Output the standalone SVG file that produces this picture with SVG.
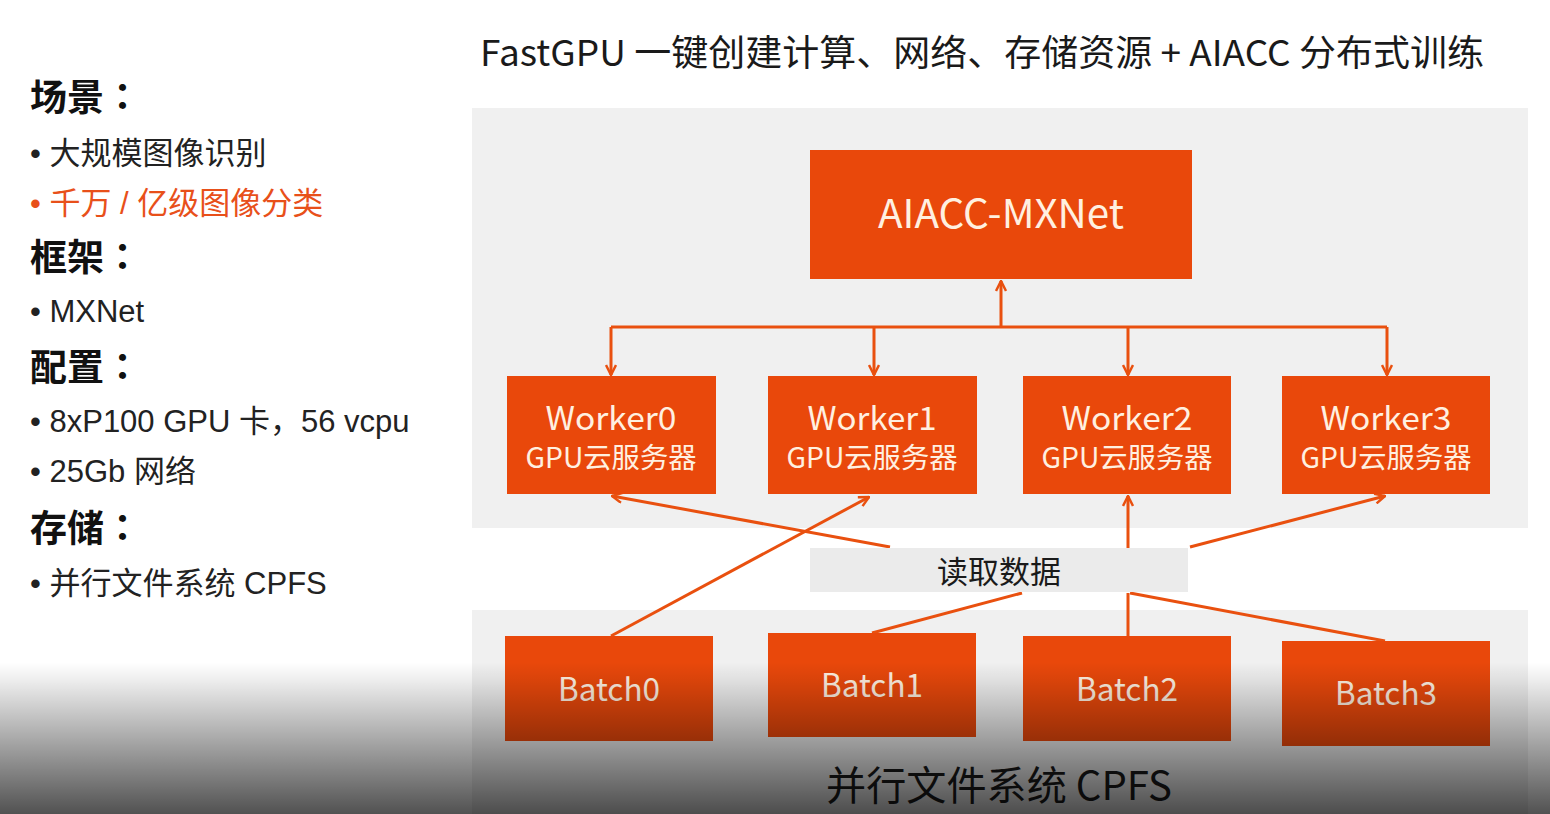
<svg xmlns="http://www.w3.org/2000/svg" width="1550" height="814" viewBox="0 0 1550 814">
<defs>
<style>
.node{fill:#E9480B}
.nt{fill:#FFF0E0;font-family:"Noto Sans CJK SC","Noto Sans",sans-serif;text-anchor:middle}
.conn{stroke:#E9500F;stroke-width:3;fill:none}
.lt{font-family:"Liberation Sans","Noto Sans CJK SC",sans-serif;fill:#222}
.hd{font-family:"Noto Sans CJK TC","Noto Sans CJK SC",sans-serif;font-weight:bold;fill:#111;font-size:37px}
</style>
<marker id="ah" viewBox="0 0 12 12" refX="11" refY="6" markerWidth="12" markerHeight="12" markerUnits="userSpaceOnUse" orient="auto">
<path d="M1,1 L11,6 L1,11" fill="none" stroke="#E9500F" stroke-width="2.5"/>
</marker>
<linearGradient id="shade" x1="0" y1="0" x2="0" y2="1">
<stop offset="0" stop-color="#000" stop-opacity="0"/>
<stop offset="0.12" stop-color="#000" stop-opacity="0.07"/>
<stop offset="1" stop-color="#000" stop-opacity="0.68"/>
</linearGradient>
</defs>
<rect width="1550" height="814" fill="#fff"/>
<!-- panels -->
<rect x="472" y="108" width="1056" height="420" fill="#f0f0f0"/>
<rect x="472" y="610" width="1056" height="204" fill="#f0f0f0"/>

<!-- title -->
<text x="480" y="66" font-family="Noto Sans CJK SC, sans-serif" font-size="36" fill="#1a1a1a" textLength="1004" lengthAdjust="spacingAndGlyphs">FastGPU 一键创建计算、网络、存储资源 + AIACC 分布式训练</text>

<!-- left text -->
<g id="left-text">
<text class="hd" x="30" y="111">场景：</text>
<text class="lt" x="30" y="164" font-size="31">• 大规模图像识别</text>
<text class="lt" x="30" y="214" font-size="31" style="fill:#E8501A">• 千万 / 亿级图像分类</text>
<text class="hd" x="30" y="271">框架：</text>
<text class="lt" x="30" y="322" font-size="31">• MXNet</text>
<text class="hd" x="30" y="381">配置：</text>
<text class="lt" x="30" y="432" font-size="31">• 8xP100 GPU 卡，56 vcpu</text>
<text class="lt" x="30" y="482" font-size="31">• 25Gb 网络</text>
<text class="hd" x="30" y="542">存储：</text>
<text class="lt" x="30" y="594" font-size="31">• 并行文件系统 CPFS</text>
</g>

<!-- connectors -->
<g id="connectors">
<path class="conn" d="M611,327 H1387"/>
<path class="conn" d="M1001,327 V281" marker-end="url(#ah)"/>
<path class="conn" d="M611,327 V375" marker-end="url(#ah)"/>
<path class="conn" d="M874,327 V375" marker-end="url(#ah)"/>
<path class="conn" d="M1128,327 V375" marker-end="url(#ah)"/>
<path class="conn" d="M1387,327 V375" marker-end="url(#ah)"/>
<path class="conn" d="M611,636 L869,497" marker-end="url(#ah)"/>
<path class="conn" d="M890,547 L612,496" marker-end="url(#ah)"/>
<path class="conn" d="M1128,548 V496" marker-end="url(#ah)"/>
<path class="conn" d="M1190,547 L1385,496" marker-end="url(#ah)"/>
<path class="conn" d="M872,633 L1022,593"/>
<path class="conn" d="M1128,636 V593"/>
<path class="conn" d="M1130,593 L1385,641"/>
</g>

<g id="label-read">
<rect x="810" y="548" width="378" height="44" fill="#ebebeb"/>
<text x="999" y="583" font-family="Noto Sans CJK SC, sans-serif" font-size="31" fill="#1a1a1a" text-anchor="middle">读取数据</text>
</g>

<g id="aiacc">
<rect class="node" x="810" y="150" width="382" height="129"/>
<text class="nt" x="1001" y="228" font-size="40" textLength="246" lengthAdjust="spacingAndGlyphs">AIACC-MXNet</text>
</g>

<g id="worker0">
<rect class="node" x="507" y="376" width="209" height="118"/>
<text class="nt" x="611" y="430" font-size="32" textLength="131" lengthAdjust="spacingAndGlyphs">Worker0</text>
<text class="nt" x="611" y="468" font-size="28" textLength="171" lengthAdjust="spacingAndGlyphs">GPU云服务器</text>
</g>
<g id="worker1">
<rect class="node" x="768" y="376" width="209" height="118"/>
<text class="nt" x="872" y="430" font-size="32" textLength="129" lengthAdjust="spacingAndGlyphs">Worker1</text>
<text class="nt" x="872" y="468" font-size="28" textLength="171" lengthAdjust="spacingAndGlyphs">GPU云服务器</text>
</g>
<g id="worker2">
<rect class="node" x="1023" y="376" width="208" height="118"/>
<text class="nt" x="1127" y="430" font-size="32" textLength="131" lengthAdjust="spacingAndGlyphs">Worker2</text>
<text class="nt" x="1127" y="468" font-size="28" textLength="171" lengthAdjust="spacingAndGlyphs">GPU云服务器</text>
</g>
<g id="worker3">
<rect class="node" x="1282" y="376" width="208" height="118"/>
<text class="nt" x="1386" y="430" font-size="32" textLength="131" lengthAdjust="spacingAndGlyphs">Worker3</text>
<text class="nt" x="1386" y="468" font-size="28" textLength="171" lengthAdjust="spacingAndGlyphs">GPU云服务器</text>
</g>

<g id="batch0">
<rect class="node" x="505" y="636" width="208" height="105"/>
<text class="nt" x="609" y="701" font-size="32" textLength="102" lengthAdjust="spacingAndGlyphs">Batch0</text>
</g>
<g id="batch1">
<rect class="node" x="768" y="633" width="208" height="104"/>
<text class="nt" x="872" y="697" font-size="32" textLength="102" lengthAdjust="spacingAndGlyphs">Batch1</text>
</g>
<g id="batch2">
<rect class="node" x="1023" y="636" width="208" height="105"/>
<text class="nt" x="1127" y="701" font-size="32" textLength="102" lengthAdjust="spacingAndGlyphs">Batch2</text>
</g>
<g id="batch3">
<rect class="node" x="1282" y="641" width="208" height="105"/>
<text class="nt" x="1386" y="705" font-size="32" textLength="102" lengthAdjust="spacingAndGlyphs">Batch3</text>
</g>

<g id="cpfs-label">
<text x="999" y="800" font-family="Noto Sans CJK SC, sans-serif" font-size="40" fill="#1a1a1a" text-anchor="middle" textLength="346" lengthAdjust="spacingAndGlyphs">并行文件系统 CPFS</text>
</g>

<rect x="0" y="662" width="1550" height="152" fill="url(#shade)"/>
</svg>
